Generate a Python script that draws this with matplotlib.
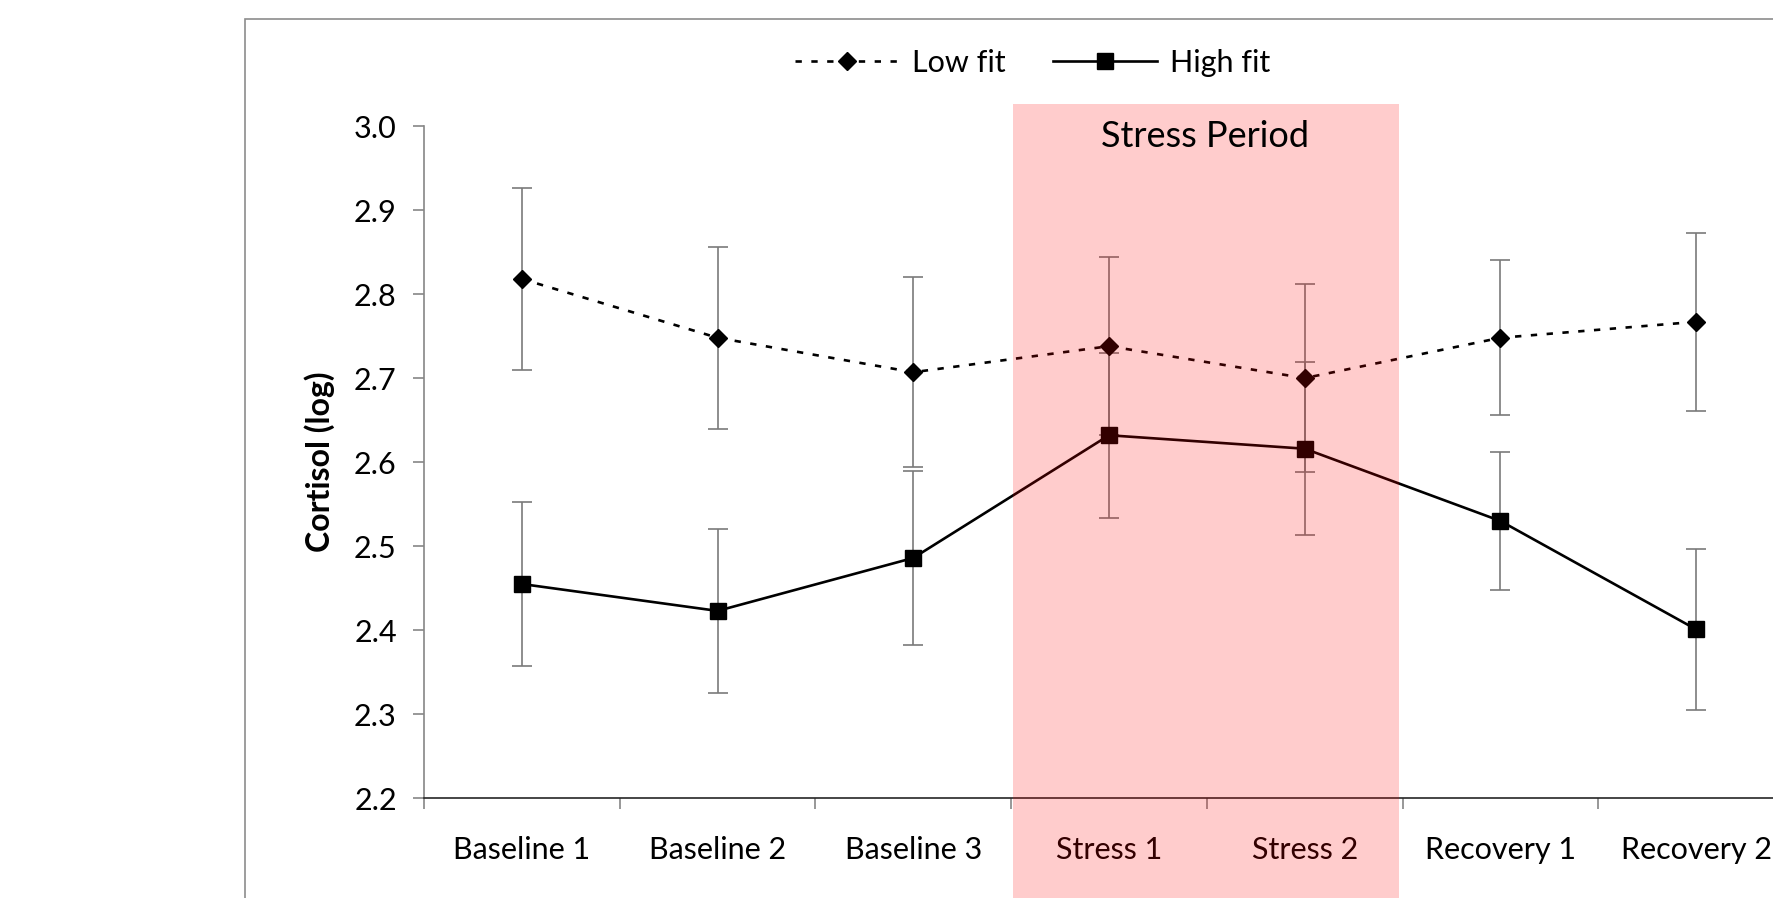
import numpy as np
import matplotlib
matplotlib.use("Agg")
import matplotlib.pyplot as plt
from matplotlib.patches import Rectangle

plt.rcParams['font.family'] = ['Lato', 'DejaVu Sans']

# data
phases = ['Baseline 1', 'Baseline 2', 'Baseline 3', 'Stress 1', 'Stress 2',
          'Recovery 1', 'Recovery 2']
low_fit = [2.818, 2.748, 2.707, 2.738, 2.700, 2.748, 2.767]
low_err = [0.108, 0.108, 0.113, 0.106, 0.112, 0.092, 0.106]
high_fit = [2.455, 2.423, 2.486, 2.632, 2.616, 2.530, 2.401]
high_err = [0.098, 0.098, 0.104, 0.098, 0.103, 0.082, 0.096]

W, H = 1773, 898
fig = plt.figure(figsize=(W / 100, H / 100), dpi=100)

# outer chart border (cropped on right / bottom)
fig.patches.append(Rectangle((245 / W, -0.2), 1.0, 1.2 - 19 / H,
                             transform=fig.transFigure, fill=False,
                             edgecolor='#8c8c8c', lw=1.2))

ax = fig.add_axes([424 / W, 1 - 798.3 / H, (1794 - 424) / W, (798.3 - 126) / H])
x = np.arange(len(phases))

ax.errorbar(x, low_fit, yerr=low_err, fmt='none', ecolor='#7a7a7a',
            elinewidth=1.2, capsize=7, capthick=1.2, zorder=2)
ax.errorbar(x, high_fit, yerr=high_err, fmt='none', ecolor='#7a7a7a',
            elinewidth=1.2, capsize=7, capthick=1.2, zorder=2)
ax.plot(x, low_fit, color='black', lw=1.9, dashes=(2.4, 3.6), marker='D',
        markersize=9.5, zorder=3, label='Low fit')
ax.plot(x, high_fit, color='black', lw=1.9, marker='s', markersize=11,
        zorder=3, label='High fit')

ax.set_xlim(-0.5, 6.5)
ax.set_ylim(2.2, 3.0)
ax.set_yticks(np.arange(2.2, 3.01, 0.1))
ax.set_yticklabels([f'{v:.1f}' for v in np.arange(2.2, 3.01, 0.1)])
ax.set_xticks(x)
ax.set_xticklabels(phases)
ax.set_xticks(np.arange(-0.5, 7, 1), minor=True)
ax.tick_params(axis='x', which='major', length=0, pad=27, labelsize=22)
ax.tick_params(axis='x', which='minor', length=8, width=1.2, color='#868686')
ax.tick_params(axis='y', length=7.6, width=1.2, color='#868686', pad=12,
               labelsize=22)

for s in ['top', 'right']:
    ax.spines[s].set_visible(False)
ax.spines['left'].set_color('#868686')
ax.spines['left'].set_linewidth(1.2)
ax.spines['bottom'].set_color('#262626')
ax.spines['bottom'].set_linewidth(1.2)

ax.set_ylabel('Cortisol (log)', fontsize=23, fontweight='bold', labelpad=14)

# translucent stress shading drawn over everything
ax.add_patch(Rectangle((2.512, 2.05), 4.48 - 2.512, 3.026 - 2.05,
                       facecolor='red', alpha=0.2, edgecolor='none',
                       clip_on=False, zorder=10))
ax.text(3.49, 2.9754, 'Stress Period', ha='center', va='baseline',
        fontsize=26, zorder=11)

leg = ax.legend(loc='center', bbox_to_anchor=(1032.7 / W, 1 - 63 / H),
                bbox_transform=fig.transFigure, ncol=2, frameon=False,
                fontsize=22, handlelength=3.4, handletextpad=0.43,
                columnspacing=1.55, numpoints=1)

fig.savefig('out.png', dpi=100)
